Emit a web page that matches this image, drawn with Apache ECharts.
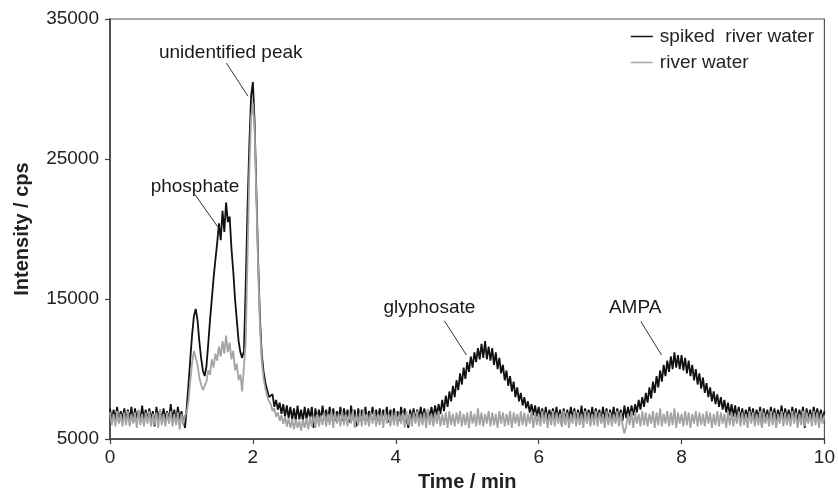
<!DOCTYPE html>
<html>
<head>
<meta charset="utf-8">
<script src="https://cdn.jsdelivr.net/npm/echarts@6/dist/echarts.min.js"></script>
<style>html,body{margin:0;padding:0;background:#fff}#c{width:838px;height:497px}</style>
</head>
<body>
<div id="c"></div>
<script>
// Sampling grid of the chromatogram (minutes)
const T_START = 0, T_STEP = 0.025;

// Series names
const seriesNames = ['spiked  river water', 'river water'];

// Intensity (cps), one value per 0.025 min, 0 .. 10 min
const spiked = [
7200,6300,7100,6400,7300,6200,7000,6400,7200,6300,
7100,6400,7300,6200,7200,6500,7000,6300,7400,6400,
7100,6300,7200,6400,7000,5900,7300,6400,7100,6300,
7200,6400,7000,6300,7500,6400,7100,6200,7300,6400,
7000,6300,5800,7300,
9000,10800,12500,13800,14300,13500,
12000,10800,9900,9500,10200,11800,13500,15000,16500,17800,
19000,20400,19200,21300,19800,21900,20500,20900,18600,17000,
15000,13500,12000,11200,10800,11300,16000,21500,26000,29500,
30500,27500,22500,17500,13500,11000,9800,9000,8500,8000,
7900,8200,7300,7800,7100,7600,6800,7500,6600,7400,
6500,7300,6400,7200,6300,7400,6400,7100,6300,7300,
6400,7200,6500,7300,5800,7200,6400,7100,6300,7400,
6400,7100,6300,7300,6500,7200,6300,7000,6400,7300,
6300,7200,6400,7100,6200,7400,6400,7100,5900,7200,
6300,7100,6400,7300,6300,7000,6500,7300,6400,7100,
6300,7200,6400,7100,6500,7300,6200,7100,6400,7200,
6400,7000,6300,7300,6400,7200,6500,5800,7100,6400,
7200,6300,7100,6500,7300,6400,7200,6300,7100,6600,
7300,6500,7400,6700,7500,6800,7800,7000,8100,7300,
8400,7700,8800,8000,9200,8500,9700,8900,10100,9300,
10500,9800,10900,10100,11200,10500,11500,10700,11800,10800,
12000,10700,11600,10600,11500,10300,11200,10000,10800,9700,
10300,9200,9900,8800,9500,8400,9100,8000,8700,7700,
8300,7400,8000,7200,7700,6900,7500,6700,7400,6600,
7300,6500,7200,6400,7300,6300,7100,6500,7200,6400,
7300,6400,7100,5900,7200,6300,7100,6400,7300,6500,
7200,6300,7100,6400,7400,6300,7200,6500,7100,6400,
7300,6300,7200,6500,7100,6200,7300,6400,7200,6300,
7100,6400,7300,6300,7200,6500,7100,6300,7400,6500,
7300,6600,7400,6700,7500,6900,7800,7100,8000,7300,
8300,7600,8700,7900,9100,8300,9500,8700,9900,9100,
10300,9500,10600,9800,10900,10000,11200,10100,11000,10000,
11000,9900,10800,9700,10600,9500,10300,9200,10000,8900,
9700,8600,9400,8300,9000,8000,8700,7700,8400,7500,
8200,7300,8000,7100,7800,6900,7600,6700,7500,6600,
7400,6500,7300,6400,7200,6300,7100,6500,7300,6400,
7200,6300,7100,6400,7300,5900,7200,6400,7100,6300,
7300,6400,7200,6300,7100,6500,7400,6300,7200,6400,
7100,6300,7300,6400,7200,6200,7100,6400,7300,5800,
7200,6400,7100,6300,7300,6500,7200,6400,7100,6300,
7000
];

const riverWater = [
6900,6000,6800,5900,7000,6100,6800,5900,6900,6000,
7000,5900,6800,6100,6900,5800,7100,6000,6800,5900,
6900,6100,7000,5900,6800,6000,6900,5800,7100,6000,
6800,5900,6900,6100,7000,5900,6800,6000,6900,5700,
6800,6000,6700,6900,
7800,9200,10500,11300,11200,10300,
9400,8900,8500,8800,9100,9900,9600,10700,10100,11100,
10600,11600,10900,12000,11100,12400,11200,11900,10700,11300,
9900,10400,9200,9600,8400,8500,12000,18000,24000,28000,
29000,27000,22000,17000,13000,10500,9300,8600,8100,7700,
7500,7000,7200,6600,6900,6300,6700,6100,6600,5900,
6500,5800,6400,5700,6400,5800,6300,5600,6400,5800,
6500,5700,6600,5900,6700,5800,6800,5900,6700,6000,
6900,5900,6800,6000,7000,5800,6900,6100,6800,5900,
7000,6000,6800,5900,6900,6100,7000,5800,6800,6000,
6900,5900,7100,6000,6800,5900,6900,6100,7000,5900,
6800,6000,6900,5800,7000,6100,6800,5900,6900,6000,
7000,5900,6800,6100,6900,5800,7000,6000,6800,5900,
6900,6100,7000,5900,6800,6000,6900,5800,7100,6000,
6800,5900,6900,6100,7000,5900,6800,6000,6900,5800,
7000,6000,6800,5900,6900,6100,7000,5900,6800,6000,
6900,5800,7000,6100,6800,5900,7200,6000,6900,5900,
6800,6100,7000,5900,6900,6000,6800,5800,7000,6100,
6900,5900,6800,6000,7000,5800,6900,6100,6800,5900,
7000,6000,6900,5900,6800,6100,7000,5800,6900,6000,
6800,5900,7000,6100,6900,5800,6800,6000,7000,5900,
6900,6100,6800,5900,7000,6000,6900,5800,6800,6100,
7000,5900,6900,6000,6800,5800,7000,6100,6900,5900,
6800,6000,7000,5900,6900,6100,6800,5800,7000,6000,
6900,5900,6800,6100,7000,5900,6900,6000,5400,5900,
6800,6000,7000,5800,6900,6100,6800,5900,7000,6000,
6900,5900,6800,6100,7000,5800,6900,6000,7200,5900,
6800,6100,7000,5900,6900,6000,7200,5800,6900,6100,
6800,5900,7000,6000,6900,5800,6800,6100,7000,5900,
6900,6000,6800,5900,7000,6100,6900,5800,6800,6000,
7000,5900,6900,6100,6800,5800,7000,6000,6900,5900,
6800,6100,7000,5900,6900,6000,6800,5800,7000,6100,
6900,5900,6800,6000,7000,5800,6900,6100,6800,5900,
7000,6000,6900,5800,6800,6100,7000,5900,6900,6000,
6800,5900,7000,6100,6900,5800,6800,6000,7000,5900,
6900,6100,6800,5900,7000,6000,6900,5800,6800,6100,
6700
];

// Axis ticks
const xTicks = [0, 2, 4, 6, 8, 10];
const yTicks = [5000, 15000, 25000, 35000];

// Peak annotations: label text and the data point each label sits at
const annLabels = ['unidentified peak', 'phosphate', 'glyphosate', 'AMPA'];
const annLabelX = [1.69, 1.19, 4.47, 7.35];
const annLabelY = [32600, 23000, 14400, 14400];
// Leader lines: start (near label) and end (near peak)
const annFromX = [1.63, 1.19, 4.68, 7.43];
const annFromY = [31850, 22450, 13450, 13400];
const annToX = [1.93, 1.51, 4.99, 7.72];
const annToY = [29500, 20150, 11000, 11000];

const time = spiked.map((_, i) => +(T_START + i * T_STEP).toFixed(3));
const FONT = "'Liberation Sans', Arial, sans-serif";

const chart = echarts.init(document.getElementById('c'), null, {renderer: 'canvas'});
chart.setOption({
  animation: false,
  backgroundColor: '#fff',
  grid: {left: 110, right: 12, top: 19, bottom: 52, show: true, borderColor: '#555', borderWidth: 1.2, containLabel: false},
  legend: {
    data: seriesNames,
    orient: 'vertical', right: 24, top: 27, padding: 0,
    icon: 'rect', itemWidth: 22, itemHeight: 1.5, itemGap: 7,
    textStyle: {fontFamily: FONT, fontSize: 19, color: '#222', padding: [0, 0, 0, 2]},
    selectedMode: false
  },
  xAxis: {
    type: 'value', min: xTicks[0], max: xTicks[xTicks.length - 1], interval: 2,
    name: 'Time / min', nameLocation: 'middle', nameGap: 27,
    nameTextStyle: {fontFamily: FONT, fontSize: 20, fontWeight: 'bold', color: '#222'},
    axisLine: {lineStyle: {color: '#404040', width: 1.6}},
    axisTick: {show: true, length: 5, lineStyle: {color: '#404040', width: 1.2}},
    axisLabel: {fontFamily: FONT, fontSize: 19, color: '#222', margin: 9, formatter: v => String(v)},
    splitLine: {show: false}
  },
  yAxis: {
    type: 'value', min: yTicks[0], max: yTicks[yTicks.length - 1], interval: 10000,
    name: 'Intensity / cps', nameLocation: 'middle', nameGap: 78,
    nameTextStyle: {fontFamily: FONT, fontSize: 20, fontWeight: 'bold', color: '#222'},
    axisLine: {show: true, lineStyle: {color: '#404040', width: 1.6}},
    axisTick: {show: true, length: 5, lineStyle: {color: '#404040', width: 1.2}},
    axisLabel: {fontFamily: FONT, fontSize: 19, color: '#222', margin: 11, formatter: v => String(v)},
    splitLine: {show: false}
  },
  series: [
    {
      name: seriesNames[0], type: 'line', showSymbol: false, symbol: 'none',
      data: time.map((t, i) => [t, spiked[i]]),
      lineStyle: {color: '#111', width: 1.8}, itemStyle: {color: '#111'}, silent: true
    },
    {
      name: seriesNames[1], type: 'line', showSymbol: false, symbol: 'none',
      data: time.map((t, i) => [t, riverWater[i]]),
      lineStyle: {color: '#a4a4a4', width: 1.8}, itemStyle: {color: '#a4a4a4'}, silent: true
    },
    {
      name: 'annotations', type: 'scatter', symbolSize: 0, silent: true,
      itemStyle: {opacity: 1},
      data: annLabels.map((n, i) => ({name: n, value: [annLabelX[i], annLabelY[i]]})),
      label: {show: true, position: 'inside', formatter: '{b}', fontFamily: FONT, fontSize: 19,
              color: '#1a1a1a', opacity: 1, textBorderWidth: 0},
      markLine: {
        silent: true, symbol: 'none', animation: false,
        label: {show: false},
        lineStyle: {color: '#333', width: 1, type: 'solid', opacity: 1},
        emphasis: {disabled: true},
        data: annLabels.map((n, i) => [{coord: [annFromX[i], annFromY[i]]}, {coord: [annToX[i], annToY[i]]}])
      }
    }
  ]
});
</script>
</body>
</html>
